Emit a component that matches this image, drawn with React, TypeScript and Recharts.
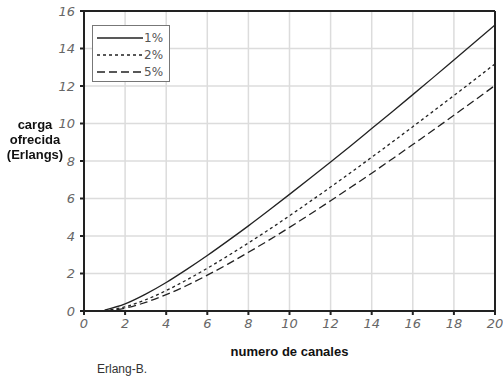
import React from 'react';
import { LineChart, Line, XAxis, YAxis, CartesianGrid, ReferenceLine } from 'recharts';

// numero de canales
const canales = [1, 2, 3, 4, 5, 6, 7, 8, 9, 10, 11, 12, 13, 14, 15, 16, 17, 18, 19, 20];
// carga ofrecida (Erlangs) per curve, as drawn
const serie1 = [0.05, 0.38, 0.9, 1.52, 2.22, 2.96, 3.74, 4.54, 5.37, 6.22, 7.08, 7.95, 8.83, 9.73, 10.63, 11.54, 12.46, 13.39, 14.32, 15.25];
const serie2 = [0.02, 0.22, 0.6, 1.09, 1.66, 2.28, 2.94, 3.63, 4.34, 5.08, 5.84, 6.61, 7.4, 8.2, 9.01, 9.83, 10.66, 11.49, 12.33, 13.18];
const serie5 = [0.01, 0.15, 0.46, 0.87, 1.36, 1.91, 2.5, 3.13, 3.78, 4.46, 5.16, 5.88, 6.61, 7.35, 8.11, 8.88, 9.65, 10.44, 11.23, 12.03];
const xTicks = [0, 2, 4, 6, 8, 10, 12, 14, 16, 18, 20];
const yTicks = [0, 2, 4, 6, 8, 10, 12, 14, 16];

const data = canales.map((n, i) => ({ n, p1: serie1[i], p2: serie2[i], p5: serie5[i] }));

const series = [
  { key: 'p1', name: '1%', dash: undefined },
  { key: 'p2', name: '2%', dash: '3 3' },
  { key: 'p5', name: '5%', dash: '8 4' },
];

const tickStyle = { fill: '#666', fontSize: 13, fontStyle: 'italic', fontFamily: 'DejaVu Sans' };

// legend drawn as an overlay so it doesn't push the plot area
const LegendBox = () => (
  <div style={{ position: 'absolute', left: 92, top: 25, width: 78, height: 57, border: '1px solid #777', background: '#fff', boxSizing: 'border-box', padding: '3px 0 0 4px' }}>
    {series.map(s => (
      <div key={s.key} style={{ display: 'flex', alignItems: 'center', height: 17 }}>
        <svg width={46} height={6}>
          <line x1={0} y1={3} x2={46} y2={3} stroke="#222" strokeWidth={1.3} strokeDasharray={s.dash} />
        </svg>
        <span style={{ fontSize: 12, color: '#555', fontFamily: 'DejaVu Sans', marginLeft: 1 }}>{s.name}</span>
      </div>
    ))}
  </div>
);

export default function App() {
  return (
    <div style={{ position: 'fixed', left: 0, top: 0, width: 503, height: 376, background: '#fff' }}>
      <LineChart width={503} height={376} data={data} margin={{ top: 11, right: 8, left: 0, bottom: 35 }}>
        <CartesianGrid stroke="#dcdcdc" strokeWidth={1.5} />
        <XAxis
          dataKey="n"
          type="number"
          domain={[0, 20]}
          ticks={xTicks}
          height={30}
          tick={{ ...tickStyle, dy: 2 }}
          tickSize={4}
          tickLine={{ stroke: '#222', strokeWidth: 2 }}
          axisLine={{ stroke: '#222', strokeWidth: 2 }}
        />
        <YAxis
          type="number"
          domain={[0, 16]}
          ticks={yTicks}
          width={84}
          tick={{ ...tickStyle, dx: -3 }}
          tickSize={4}
          tickLine={{ stroke: '#222', strokeWidth: 2 }}
          axisLine={{ stroke: '#222', strokeWidth: 2 }}
        />
        <ReferenceLine y={16} stroke="#222" strokeWidth={2} />
        <ReferenceLine x={20} stroke="#222" strokeWidth={2} />
        {series.map(s => (
          <Line
            key={s.key}
            dataKey={s.key}
            name={s.name}
            type="monotone"
            stroke="#222"
            strokeWidth={1.3}
            strokeDasharray={s.dash}
            dot={false}
            isAnimationActive={false}
          />
        ))}
      </LineChart>
      <LegendBox />
      <div style={{ position: 'absolute', left: -4, top: 117, width: 78, textAlign: 'center', fontFamily: 'Liberation Sans', fontWeight: 'bold', fontSize: 13, lineHeight: '15px', color: '#111' }}>
        carga<br />ofrecida<br />(Erlangs)
      </div>
      <div style={{ position: 'absolute', left: 84, top: 344, width: 411, textAlign: 'center', fontFamily: 'Liberation Sans', fontWeight: 'bold', fontSize: 13, color: '#111' }}>
        numero de canales
      </div>
      <div style={{ position: 'absolute', left: 97, top: 362, fontFamily: 'Liberation Sans', fontSize: 12, color: '#333' }}>
        Erlang-B.
      </div>
    </div>
  );
}
